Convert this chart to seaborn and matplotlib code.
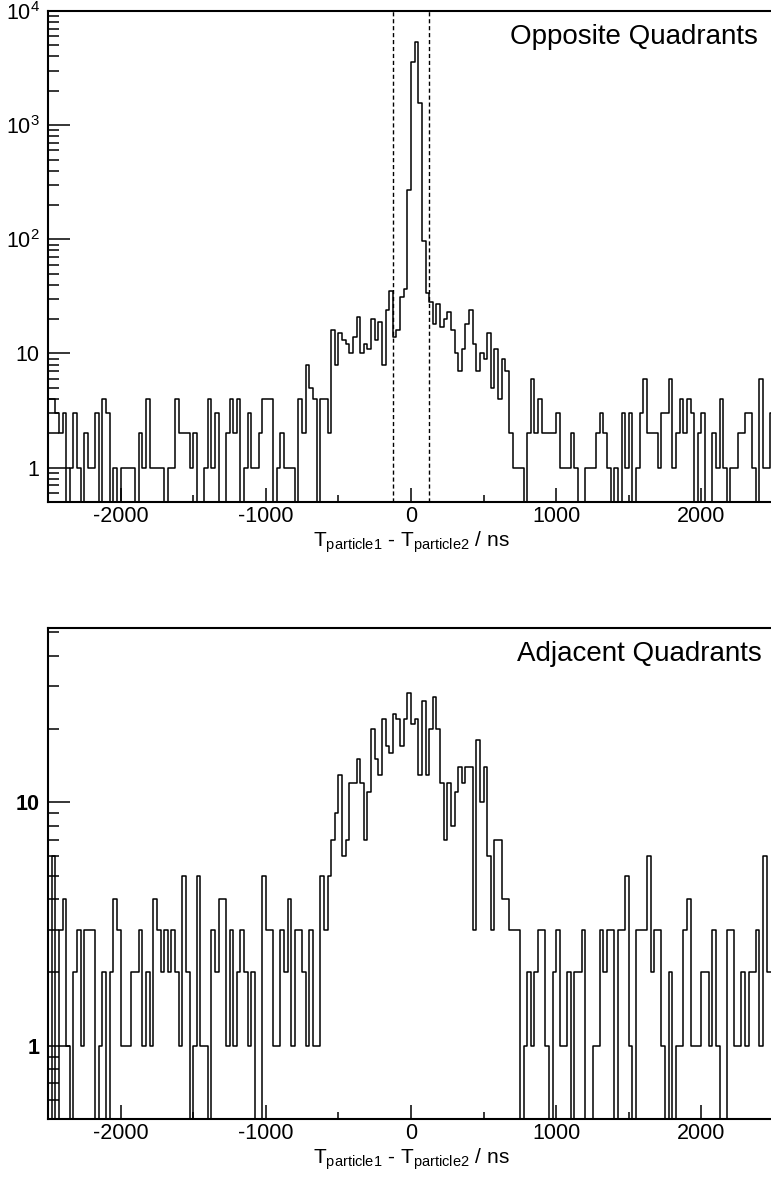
import numpy as np
import pandas as pd
import matplotlib
matplotlib.use('Agg')
import matplotlib.pyplot as plt
import seaborn as sns
from matplotlib.ticker import FixedLocator, FixedFormatter, NullFormatter

# --- Data: 25 ns bins from -2500 to 2500 ns ---
bin_edges = list(range(-2500, 2501, 25))

opposite_counts = [
    4, 4, 3, 2, 3, 0, 1, 3, 1, 0,
    2, 1, 1, 3, 0, 4, 3, 0, 1, 0,
    1, 1, 1, 1, 0, 2, 1, 4, 1, 1,
    1, 1, 0, 1, 1, 4, 2, 2, 2, 1,
    2, 0, 0, 1, 4, 1, 3, 0, 0, 2,
    4, 2, 4, 0, 1, 3, 1, 1, 2, 4,
    4, 4, 0, 1, 2, 1, 1, 1, 0, 4,
    2, 8, 5, 4, 0, 4, 4, 2, 16, 8,
    15, 13, 12, 10, 14, 21, 10, 12, 11, 20,
    13, 19, 8, 24, 35, 14, 16, 31, 37, 268,
    3600, 5300, 1560, 96, 34, 28, 18, 27, 17, 20,
    23, 16, 10, 7, 11, 18, 24, 12, 7, 10,
    9, 15, 5, 11, 4, 9, 7, 2, 1, 1,
    1, 0, 2, 6, 2, 4, 2, 2, 2, 2,
    3, 1, 1, 1, 2, 1, 0, 0, 1, 1,
    1, 2, 3, 2, 1, 0, 1, 0, 3, 1,
    3, 0, 1, 3, 6, 2, 2, 2, 1, 3,
    3, 6, 1, 2, 4, 2, 4, 3, 0, 2,
    3, 0, 0, 2, 1, 4, 1, 0, 1, 1,
    2, 2, 3, 3, 1, 0, 6, 1, 1, 3,
]

adjacent_counts = [
    0, 6, 0, 3, 4, 1, 0, 2, 3, 1,
    3, 3, 3, 0, 1, 2, 0, 2, 4, 3,
    1, 1, 1, 2, 2, 3, 1, 2, 1, 4,
    3, 2, 3, 2, 3, 2, 1, 5, 2, 0,
    1, 5, 1, 1, 0, 3, 2, 4, 4, 1,
    3, 1, 2, 3, 2, 1, 2, 0, 0, 5,
    3, 3, 1, 1, 3, 2, 4, 1, 3, 3,
    2, 1, 3, 1, 1, 5, 3, 5, 7, 9,
    13, 6, 7, 12, 12, 15, 12, 7, 11, 20,
    15, 13, 22, 17, 16, 23, 22, 17, 22, 28,
    21, 22, 13, 26, 13, 20, 27, 20, 12, 7,
    12, 8, 11, 14, 12, 14, 14, 3, 18, 10,
    14, 6, 3, 7, 7, 4, 4, 3, 3, 3,
    0, 1, 2, 1, 2, 3, 3, 1, 0, 2,
    3, 1, 1, 2, 0, 2, 2, 3, 0, 0,
    1, 1, 3, 2, 3, 3, 0, 3, 3, 5,
    1, 0, 3, 3, 3, 6, 2, 3, 3, 1,
    0, 2, 0, 1, 1, 3, 4, 1, 1, 1,
    2, 2, 1, 3, 1, 0, 0, 3, 3, 1,
    1, 2, 1, 2, 2, 3, 1, 6, 2, 2,
]

cut_window = [-125, 125]
x_major = [-2000, -1000, 0, 1000, 2000]
x_minor = [-2500, -1500, -500, 500, 1500, 2500]

df = pd.DataFrame({
    'dt': [e + 12.5 for e in bin_edges[:-1]],
    'opposite': np.array(opposite_counts, dtype=float),
    'adjacent': np.array(adjacent_counts, dtype=float),
})

sns.set_style('ticks')
plt.rcParams['font.family'] = ['Liberation Sans', 'DejaVu Sans']
plt.rcParams['mathtext.default'] = 'regular'
plt.rcParams['axes.unicode_minus'] = False
for key in ['text.color', 'axes.labelcolor', 'xtick.color', 'ytick.color', 'axes.edgecolor']:
    plt.rcParams[key] = 'black'

W, H = 771, 1179
fig = plt.figure(figsize=(W / 100, H / 100), dpi=100)
ax_top = fig.add_axes([48 / W, 1 - 502 / H, 726 / W, 491 / H])
ax_bot = fig.add_axes([48 / W, 1 - 1119 / H, 726 / W, 491 / H])

xlabel = r'T$_{particle1}$ - T$_{particle2}$ / ns'


def draw_hist(ax, col, ylim, title, title_x):
    sns.histplot(data=df, x='dt', weights=col, bins=bin_edges, element='step',
                 fill=False, color='black', linewidth=1.1, ax=ax)
    ax.set_yscale('log')
    ax.set_xlim(-2500, 2500)
    ax.set_ylim(*ylim)
    ax.set_ylabel('')
    ax.set_xlabel(xlabel, fontsize=15, labelpad=2, color='black')
    for side in ['left', 'top', 'bottom', 'right']:
        ax.spines[side].set_linewidth(1.5)
        ax.spines[side].set_color('black')
    ax.xaxis.set_major_locator(FixedLocator(x_major))
    ax.xaxis.set_minor_locator(FixedLocator(x_minor))
    ax.tick_params(axis='x', which='major', direction='in', length=10, width=1.1,
                   labelsize=15.5, pad=3, top=False, colors='black')
    ax.tick_params(axis='x', which='minor', direction='in', length=5, width=1.1, top=False,
                   colors='black')
    ax.tick_params(axis='y', which='major', direction='in', length=16, width=1.1,
                   labelsize=15.5, pad=6, right=False, colors='black')
    ax.tick_params(axis='y', which='minor', direction='in', length=8, width=1.1, right=False,
                   colors='black')
    ax.text(title_x, 0.932, title, transform=ax.transAxes, ha='right', va='baseline',
            fontsize=20, color='black')


# Opposite quadrants
draw_hist(ax_top, 'opposite', (0.5, 1e4), 'Opposite Quadrants', 0.978)
top_major = [1, 10, 100, 1000, 10000]
ax_top.yaxis.set_major_locator(FixedLocator(top_major))
ax_top.yaxis.set_major_formatter(FixedFormatter(['1', '10', '$10^{2}$', '$10^{3}$', '$10^{4}$']))
top_minor = [m * 10.0 ** e for e in range(-1, 4) for m in range(2, 10) if 0.5 < m * 10.0 ** e < 1e4]
ax_top.yaxis.set_minor_locator(FixedLocator(top_minor))
ax_top.yaxis.set_minor_formatter(NullFormatter())
for xc in cut_window:
    ax_top.axvline(xc, color='black', linestyle=(0, (3, 2)), linewidth=1.0)

# Adjacent quadrants
draw_hist(ax_bot, 'adjacent', (0.5, 52), 'Adjacent Quadrants', 0.983)
ax_bot.yaxis.set_major_locator(FixedLocator([1, 10]))
ax_bot.yaxis.set_major_formatter(FixedFormatter(['1', '10']))
bot_minor = [m * 10.0 ** e for e in range(-1, 2) for m in range(2, 10) if 0.5 < m * 10.0 ** e < 52]
ax_bot.yaxis.set_minor_locator(FixedLocator(bot_minor))
ax_bot.yaxis.set_minor_formatter(NullFormatter())
for lab in ax_bot.get_yticklabels():
    lab.set_fontweight('bold')

fig.savefig('out.png', dpi=100)
